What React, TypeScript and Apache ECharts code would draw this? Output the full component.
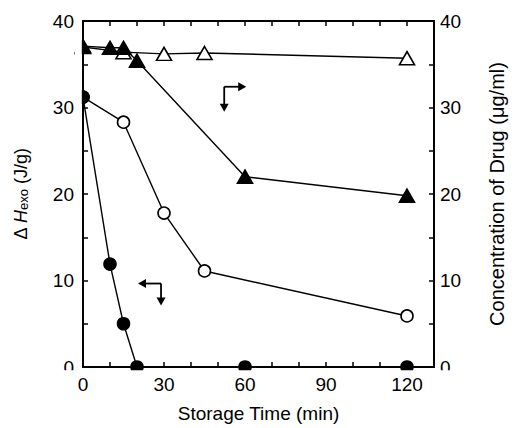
import React, { useEffect, useRef } from "react";
import * as echarts from "echarts";

const openTriangles: [number, number][] = [[0, 37.0], [15, 36.4], [30, 36.2], [45, 36.3], [120, 35.7]];
const filledTriangles: [number, number][] = [[0, 37.1], [10, 36.9], [15, 36.9], [20, 35.4], [60, 22.0], [120, 19.8]];
const openCircles: [number, number][] = [[0, 31.2], [15, 28.3], [30, 17.8], [45, 11.1], [120, 5.9]];
const filledCircles: [number, number][] = [[0, 31.2], [10, 11.9], [15, 5.0], [20, 0], [60, 0], [120, 0]];

const xLabelsEvery = 30;
const yLabelsEvery = 10;

// annotation arrow corners (data coords)
const arrowUpper: [number, number] = [52.3, 32.4];
const arrowLower: [number, number] = [28.9, 9.65];

const FONT = "'Liberation Sans', Arial, Helvetica, sans-serif";

export default function App() {
  const ref = useRef<HTMLDivElement>(null);
  useEffect(() => {
    document.body.style.margin = "0";
    document.body.style.overflow = "hidden";
    const chart = echarts.init(ref.current!, null, { renderer: "svg", width: 515, height: 428 });
    const axisLineStyle = { color: "#000", width: 2 };
    const tick = { show: true, inside: true, length: 5, lineStyle: { color: "#000", width: 1.5 } };
    const xBase = {
      type: "value" as const,
      min: 0,
      max: 130,
      interval: 10,
      splitLine: { show: false },
      axisLine: { show: true, onZero: false, lineStyle: axisLineStyle },
      axisTick: tick,
    };
    const yBase = {
      type: "value" as const,
      min: 0,
      max: 40,
      interval: 5,
      splitLine: { show: false },
      axisLine: { show: true, onZero: false, lineStyle: axisLineStyle },
      axisTick: tick,
    };
    const lineStyle = { color: "#000", width: 1.4 };
    const mk = (name: string, data: [number, number][], symbol: string, filled: boolean, yIdx: number, size: any) => ({
      name,
      type: "line",
      data,
      yAxisIndex: yIdx,
      symbol,
      symbolSize: size,
      showAllSymbol: true,
      clip: false,
      lineStyle,
      itemStyle: { color: filled ? "#000" : "#fff", borderColor: "#000", borderWidth: 1.6 },
      z: filled ? 4 : 3,
    });
    chart.setOption({
      animation: false,
      grid: { left: 83, top: 21, width: 361, height: 348 },
      xAxis: [
        {
          ...xBase,
          position: "bottom",
          name: "Storage Time (min)",
          nameLocation: "middle",
          nameGap: 37,
          nameTextStyle: { fontFamily: FONT, fontSize: 19, color: "#000" },
          axisLabel: {
            margin: 8,
            fontFamily: FONT,
            fontSize: 19,
            color: "#000",
            formatter: (v: number) => (v % xLabelsEvery === 0 && v <= 120 ? String(v) : ""),
          },
        },
        { ...xBase, position: "top", axisLabel: { show: false } },
      ],
      yAxis: [
        {
          ...yBase,
          position: "left",
          name: "{a|Δ }{h|H}{s|exo}{a| (J/g)}",
          nameLocation: "middle",
          nameGap: 53,
          nameTextStyle: {
            fontFamily: FONT,
            color: "#000",
            rich: {
              a: { fontFamily: FONT, fontSize: 18, color: "#000" },
              h: { fontFamily: FONT, fontSize: 18, fontStyle: "italic", color: "#000" },
              s: { fontFamily: FONT, fontSize: 13, color: "#000", verticalAlign: "bottom" },
            },
          },
          axisLabel: {
            margin: 9,
            fontFamily: FONT,
            fontSize: 19,
            color: "#000",
            formatter: (v: number) => (v % yLabelsEvery === 0 ? String(v) : ""),
          },
        },
        {
          ...yBase,
          position: "right",
          name: "Concentration of Drug (μg/ml)",
          nameLocation: "middle",
          nameGap: 53,
          nameTextStyle: { fontFamily: FONT, fontSize: 20, color: "#000" },
          axisLabel: {
            margin: 6,
            fontFamily: FONT,
            fontSize: 19,
            color: "#000",
            formatter: (v: number) => (v % yLabelsEvery === 0 ? String(v) : ""),
          },
        },
      ],
      series: [
        mk("open circles", openCircles, "circle", false, 0, 12),
        mk("filled circles", filledCircles, "circle", true, 0, 12),
        mk("open triangles", openTriangles, "triangle", false, 1, [15, 13]),
        mk("filled triangles", filledTriangles, "triangle", true, 1, [15, 13]),
      ],
    });

    const toPx = (p: [number, number]) => chart.convertToPixel({ xAxisIndex: 0, yAxisIndex: 0 }, p) as number[];
    const u = toPx(arrowUpper);
    const l = toPx(arrowLower);
    const arrowStyle = { stroke: "#000", lineWidth: 1.8 };
    const head = (tipX: number, tipY: number, dir: "r" | "l" | "d") => {
      const L = 8, W = 4.5;
      let pts: number[][];
      if (dir === "r") pts = [[tipX, tipY], [tipX - L, tipY - W], [tipX - L, tipY + W]];
      else if (dir === "l") pts = [[tipX, tipY], [tipX + L, tipY - W], [tipX + L, tipY + W]];
      else pts = [[tipX, tipY], [tipX - W, tipY - L], [tipX + W, tipY - L]];
      return { type: "polygon", shape: { points: pts }, style: { fill: "#000" }, z: 20 };
    };
    const plotLeft = 83, plotBottom = 21 + 348;
    chart.setOption({
      graphic: [
        // mask outside plot so markers on the axes appear clipped
        { type: "rect", shape: { x: 55, y: plotBottom + 1.2, width: 400, height: 7 }, style: { fill: "#fff" }, z: 100 },
        { type: "rect", shape: { x: plotLeft - 8, y: 15, width: 6.8, height: plotBottom - 10 }, style: { fill: "#fff" }, z: 100 },
        // upper arrow: right and down
        { type: "line", shape: { x1: u[0], y1: u[1], x2: u[0] + 16, y2: u[1] }, style: arrowStyle, z: 20 },
        head(u[0] + 22, u[1], "r"),
        { type: "line", shape: { x1: u[0], y1: u[1], x2: u[0], y2: u[1] + 19 }, style: arrowStyle, z: 20 },
        head(u[0], u[1] + 25, "d"),
        // lower arrow: left and down
        { type: "line", shape: { x1: l[0], y1: l[1], x2: l[0] - 16, y2: l[1] }, style: arrowStyle, z: 20 },
        head(l[0] - 23, l[1], "l"),
        { type: "line", shape: { x1: l[0], y1: l[1], x2: l[0], y2: l[1] + 16 }, style: arrowStyle, z: 20 },
        head(l[0], l[1] + 22, "d"),
      ],
    });
    return () => chart.dispose();
  }, []);
  return (
    <div
      ref={ref}
      style={{ position: "fixed", left: 0, top: 0, width: 515, height: 428, background: "#fff" }}
    />
  );
}
